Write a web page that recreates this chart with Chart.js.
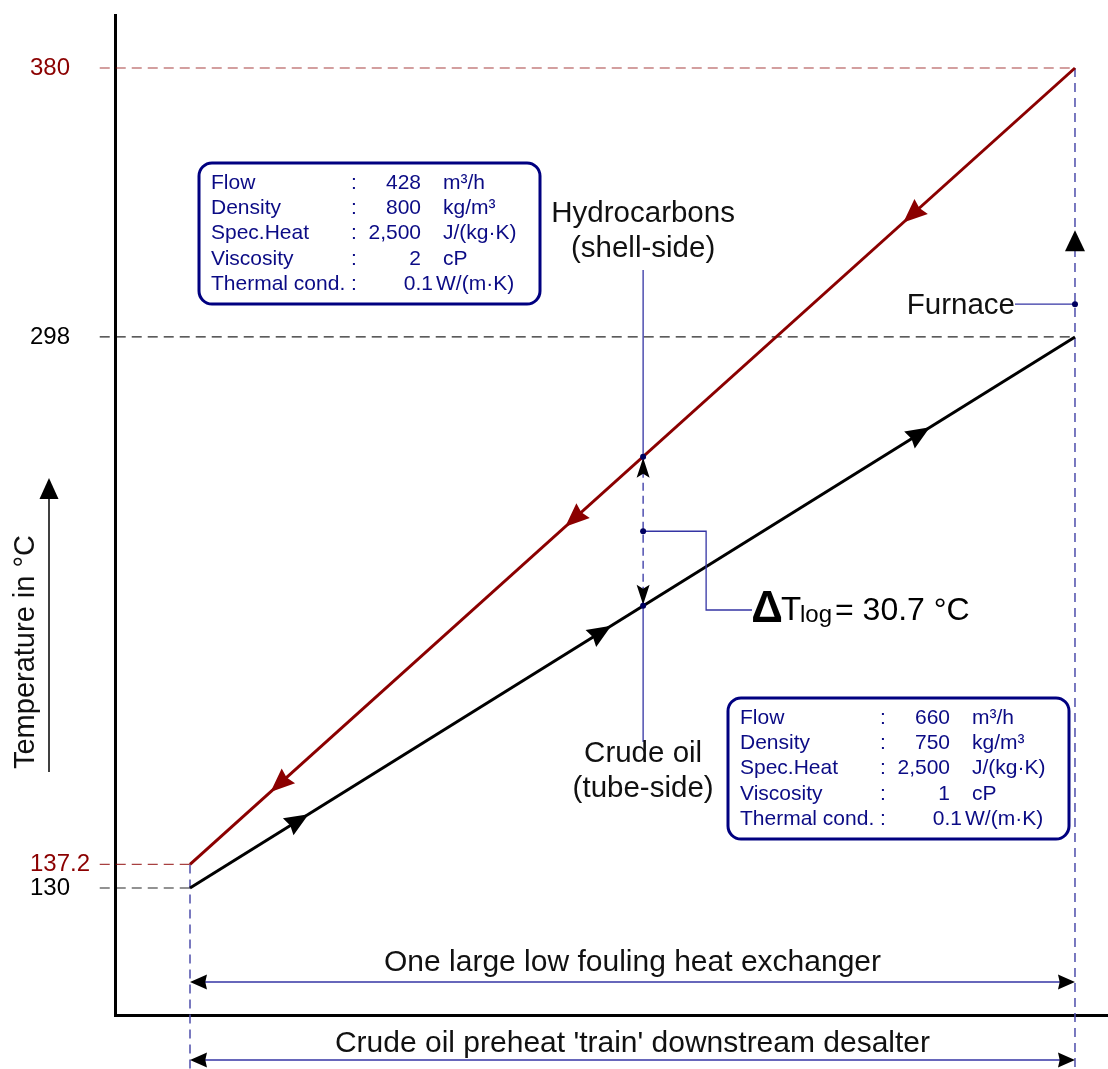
<!DOCTYPE html>
<html><head><meta charset="utf-8">
<script src="https://cdn.jsdelivr.net/npm/chart.js@4/dist/chart.umd.min.js"></script>
<style>html,body{margin:0;padding:0;background:#fff;overflow:hidden}#wrap{width:1108px;height:1069px;position:relative}</style>
</head><body><div id="wrap"><canvas id="c"></canvas></div>
<script>
// ---- data ----
const positions = [0, 1];                 // relative position along the exchanger (inlet side, outlet side)
const hotTemps = [137.2, 380];            // hydrocarbons (shell-side), °C
const coldTemps = [130, 298];             // crude oil (tube-side), °C
const tickValues = [130, 137.2, 298, 380];
const tickLabels = ['130', '137.2', '298', '380'];
const tickColorsList = ['#000000', '#8b0000', '#000000', '#8b0000'];
const hotArrowAt = [0.091, 0.424, 0.806];
const coldArrowAt = [0.134, 0.476, 0.836];
const deltaTAt = 0.512;
const furnaceTemp = 308;
const lmtdText = '= 30.7 °C';
const hotProps = [['Flow','428','m³/h'],['Density','800','kg/m³'],['Spec.Heat','2,500','J/(kg·K)'],['Viscosity','2','cP'],['Thermal cond.','0.1','W/(m·K)']];
const coldProps = [['Flow','660','m³/h'],['Density','750','kg/m³'],['Spec.Heat','2,500','J/(kg·K)'],['Viscosity','1','cP'],['Thermal cond.','0.1','W/(m·K)']];
const guideStart = -0.102;
const guideBottom = 60;

const HOT = '#8b0000', COLD = '#000000', NAVY = '#0b0b85', LEAD = '#3434a4', VDASH = '#4d4dab';
const FONT = '"Liberation Sans", Arial, Helvetica, sans-serif';

function arrow(ctx, x, y, ang, len, half, color, notch) {
  const n = notch || 0.9;
  ctx.save(); ctx.translate(x, y); ctx.rotate(ang);
  ctx.beginPath(); ctx.moveTo(0, 0); ctx.lineTo(-len, -half); ctx.lineTo(-len * n, 0); ctx.lineTo(-len, half); ctx.closePath();
  ctx.fillStyle = color; ctx.fill(); ctx.restore();
}
function dot(ctx, x, y) { ctx.beginPath(); ctx.arc(x, y, 3, 0, Math.PI * 2); ctx.fillStyle = '#000060'; ctx.fill(); }
function rrect(ctx, x, y, w, h, r) {
  ctx.beginPath(); ctx.moveTo(x + r, y); ctx.lineTo(x + w - r, y); ctx.arcTo(x + w, y, x + w, y + r, r);
  ctx.lineTo(x + w, y + h - r); ctx.arcTo(x + w, y + h, x + w - r, y + h, r); ctx.lineTo(x + r, y + h);
  ctx.arcTo(x, y + h, x, y + h - r, r); ctx.lineTo(x, y + r); ctx.arcTo(x, y, x + r, y, r); ctx.closePath();
}
function propBox(ctx, left, top, rows) {
  ctx.save();
  rrect(ctx, left, top, 341, 141, 13); ctx.lineWidth = 3; ctx.strokeStyle = '#000080'; ctx.stroke();
  ctx.font = '21px ' + FONT; ctx.fillStyle = NAVY; ctx.textBaseline = 'middle';
  rows.forEach((r, i) => {
    const y = top + 20 + i * 25.3;
    const last = i === rows.length - 1;
    ctx.textAlign = 'left'; ctx.fillText(r[0], left + 12, y);
    ctx.fillText(':', left + 152, y);
    ctx.textAlign = 'right'; ctx.fillText(r[1], left + (last ? 234 : 222), y);
    ctx.textAlign = 'left'; ctx.fillText(r[2], left + (last ? 237 : 244), y);
  });
  ctx.restore();
}
function line(ctx, pts, color, w, dash) {
  ctx.save(); ctx.beginPath(); ctx.moveTo(pts[0][0], pts[0][1]);
  for (let i = 1; i < pts.length; i++) ctx.lineTo(pts[i][0], pts[i][1]);
  ctx.strokeStyle = color; ctx.lineWidth = w; ctx.setLineDash(dash || []); ctx.stroke(); ctx.restore();
}

const deco = {
  id: 'deco',
  afterDatasetsDraw(chart) {
    const ctx = chart.ctx, xs = chart.scales.x, ys = chart.scales.y;
    const X = v => xs.getPixelForValue(v), Y = v => ys.getPixelForValue(v);
    const hx0 = X(positions[0]), hy0 = Y(hotTemps[0]), hx1 = X(positions[1]), hy1 = Y(hotTemps[1]);
    const cx0 = X(positions[0]), cy0 = Y(coldTemps[0]), cx1 = X(positions[1]), cy1 = Y(coldTemps[1]);
    const hAng = Math.atan2(hy0 - hy1, hx0 - hx1), cAng = Math.atan2(cy1 - cy0, cx1 - cx0);
    hotArrowAt.forEach(t => arrow(ctx, hx0 + (hx1 - hx0) * t, hy0 + (hy1 - hy0) * t, hAng, 24, 10, HOT));
    coldArrowAt.forEach(t => arrow(ctx, cx0 + (cx1 - cx0) * t, cy0 + (cy1 - cy0) * t, cAng, 24, 10, COLD));

    // delta T measurement
    const mx = hx0 + (hx1 - hx0) * deltaTAt;
    const myH = hy0 + (hy1 - hy0) * deltaTAt, myC = cy0 + (cy1 - cy0) * deltaTAt, myM = (myH + myC) / 2;
    line(ctx, [[mx, 270], [mx, myH]], LEAD, 1.3);
    line(ctx, [[mx, myH], [mx, myC]], LEAD, 1.3, [8, 5]);
    line(ctx, [[mx, myC], [mx, 742]], LEAD, 1.3);
    arrow(ctx, mx, myH + 1, -Math.PI / 2, 20, 6.5, '#000', 0.8);
    arrow(ctx, mx, myC - 1, Math.PI / 2, 20, 6.5, '#000', 0.8);
    line(ctx, [[mx, myM], [mx + 63, myM], [mx + 63, 610], [752, 610]], LEAD, 1.3);
    dot(ctx, mx, myH); dot(ctx, mx, myC); dot(ctx, mx, myM);

    // furnace
    const fx = X(positions[1]), fy = Y(furnaceTemp);
    line(ctx, [[1015, fy], [fx, fy]], LEAD, 1.3);
    dot(ctx, fx, fy);
    arrow(ctx, fx, fy - 74, -Math.PI / 2, 21, 10, '#000', 1);

    // dimension arrows
    const ca = chart.chartArea;
    const y1 = ca.bottom - 33, y2 = ca.bottom + 45;
    [y1, y2].forEach(y => {
      line(ctx, [[hx0 + 5, y], [hx1 - 5, y]], LEAD, 1.3);
      arrow(ctx, hx0, y, Math.PI, 17, 7.5, '#000');
      arrow(ctx, hx1, y, 0, 17, 7.5, '#000');
    });

    // texts
    ctx.save();
    ctx.fillStyle = '#111'; ctx.textBaseline = 'middle'; ctx.textAlign = 'center';
    ctx.font = '29.5px ' + FONT;
    ctx.fillText('Hydrocarbons', mx, 214);
    ctx.fillText('(shell-side)', mx, 249);
    ctx.fillText('Crude oil', mx, 754);
    ctx.fillText('(tube-side)', mx, 789);
    ctx.font = '30px ' + FONT;
    ctx.fillText('One large low fouling heat exchanger', (hx0 + hx1) / 2, y1 - 19);
    ctx.fillText("Crude oil preheat 'train' downstream desalter", (hx0 + hx1) / 2, y2 - 16);
    ctx.textAlign = 'right';
    ctx.font = '29.5px ' + FONT;
    ctx.fillText('Furnace', 1015, fy + 2);
    // LMTD label
    ctx.textBaseline = 'alphabetic'; ctx.textAlign = 'center';
    ctx.font = 'bold 44px ' + FONT; ctx.fillStyle = '#000';
    ctx.fillText('Δ', 767, 622);
    ctx.textAlign = 'left';
    ctx.font = '33px ' + FONT; ctx.fillText('T', 781, 620);
    ctx.font = '24px ' + FONT; ctx.fillText('log', 800, 622);
    ctx.font = '32px ' + FONT; ctx.fillText(lmtdText, 835, 620);
    // y-axis title with arrow
    ctx.save(); ctx.translate(34, 652); ctx.rotate(-Math.PI / 2);
    ctx.font = '29px ' + FONT; ctx.textAlign = 'center'; ctx.fillStyle = '#111';
    ctx.fillText('Temperature in °C', 0, 0);
    ctx.restore();
    ctx.restore();
    line(ctx, [[49, 772], [49, 495]], '#000', 1.5);
    arrow(ctx, 49, 478, -Math.PI / 2, 21, 9.5, '#000', 1);

    propBox(ctx, 199, 163, hotProps);
    propBox(ctx, 728, 698, coldProps);
  }
};

function seg(a, b) { return [{ x: a[0], y: a[1] }, { x: b[0], y: b[1] }]; }
const guide = (data, color, dash, w) => ({ data, borderColor: color, borderWidth: w || 1.2, borderDash: dash, pointRadius: 0, clip: false, order: 10, tension: 0 });

new Chart(document.getElementById('c'), {
  type: 'line',
  data: {
    datasets: [
      { label: 'Hydrocarbons (shell-side)', data: positions.map((p, i) => ({ x: p, y: hotTemps[i] })), borderColor: HOT, borderWidth: 3, pointRadius: 0, order: 1 },
      { label: 'Crude oil (tube-side)', data: positions.map((p, i) => ({ x: p, y: coldTemps[i] })), borderColor: COLD, borderWidth: 3, pointRadius: 0, order: 0 },
      guide(seg([guideStart, hotTemps[1]], [positions[1], hotTemps[1]]), 'rgba(139,0,0,0.75)', [10, 6]),
      guide(seg([guideStart, hotTemps[0]], [positions[0], hotTemps[0]]), 'rgba(139,0,0,0.75)', [10, 6]),
      guide(seg([guideStart, coldTemps[1]], [positions[1], coldTemps[1]]), 'rgba(0,0,0,0.85)', [10, 6]),
      guide(seg([guideStart, coldTemps[0]], [positions[0], coldTemps[0]]), 'rgba(0,0,0,0.85)', [10, 6]),
      guide(seg([positions[0], hotTemps[0]], [positions[0], guideBottom]), VDASH, [9, 6], 1.5),
      guide(seg([positions[1], hotTemps[1]], [positions[1], guideBottom]), VDASH, [9, 6], 1.5)
    ]
  },
  options: {
    responsive: true, maintainAspectRatio: false, animation: false,
    layout: { padding: { left: 30, top: 15, right: 0, bottom: 0 } },
    plugins: { legend: { display: false }, tooltip: { enabled: false }, title: { display: false } },
    scales: {
      x: {
        type: 'linear', min: -0.08475, max: 1.0373,
        grid: { display: false, drawTicks: false },
        border: { display: true, color: '#000', width: 3 },
        ticks: { display: false },
        afterFit: s => { s.height = 54; }
      },
      y: {
        type: 'linear', min: 91.28, max: 396.16,
        grid: { display: false, drawTicks: false },
        border: { display: true, color: '#000', width: 3 },
        afterBuildTicks: s => { s.ticks = tickValues.map(v => ({ value: v })); },
        ticks: {
          autoSkip: false, crossAlign: 'far', padding: 0,
          font: { size: 24, family: FONT },
          color: c => tickColorsList[tickValues.indexOf(c.tick.value)] || '#000',
          callback: v => tickLabels[tickValues.indexOf(v)]
        },
        afterFit: s => { s.width = 85; }
      }
    }
  },
  plugins: [deco]
});
</script>
</body></html>
